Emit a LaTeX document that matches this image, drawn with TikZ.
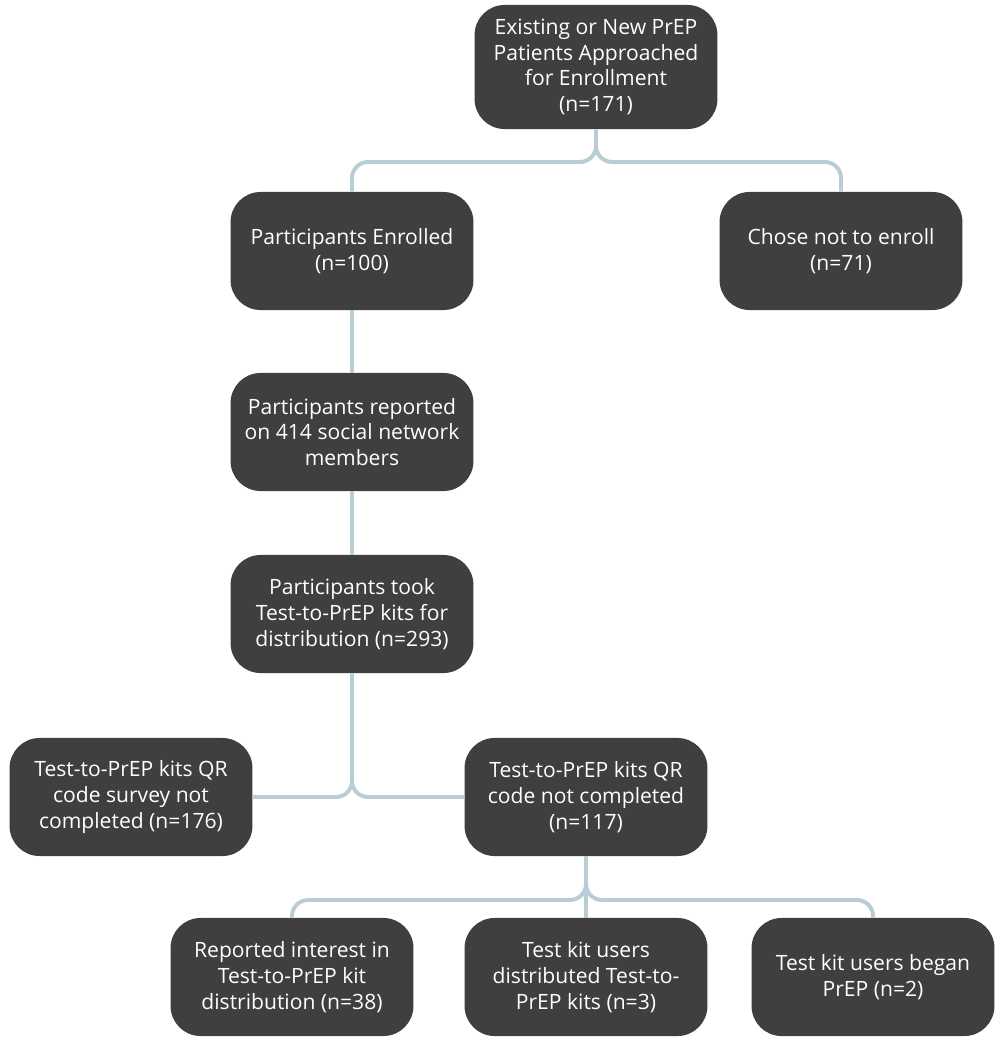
\documentclass[tikz,border=0pt]{standalone}
\usepackage{fontspec}
\setmainfont{Open Sans}
\usepackage{tikz}
\definecolor{boxgray}{RGB}{63,63,63}
\definecolor{linkblue}{RGB}{185,205,214}
\tikzset{
  flowbox/.style={draw=none, fill=boxgray, text=white, rounded corners=0.75cm,
    minimum width=6.07cm, minimum height=2.95cm, align=center,
    font=\fontsize{15}{18.3}\selectfont},
  link/.style={draw=linkblue, line width=2.8pt, rounded corners=0.4cm}
}
\begin{document}
\begin{tikzpicture}[x=0.025cm,y=-0.025cm]
    \useasboundingbox (0,0) rectangle (1006,1050);

    \node[flowbox, minimum height=3.1cm] (top) at (596,67)
        {Existing or New PrEP\\Patients Approached\\for Enrollment\\(n=171)};
    \node[flowbox] (enr) at (352,251) {Participants Enrolled\\(n=100)};
    \node[flowbox] (chose) at (841,251) {Chose not to enroll\\(n=71)};
    \node[flowbox] (rep) at (352,432) {Participants reported\\on 414 social network\\members};
    \node[flowbox] (took) at (352,614) {Participants took\\Test-to-PrEP kits for\\distribution (n=293)};
    \node[flowbox] (surv) at (131,797) {Test-to-PrEP kits QR\\code survey not\\completed (n=176)};
    \node[flowbox] (qr) at (586,797) {Test-to-PrEP kits QR\\code not completed\\(n=117)};
    \node[flowbox] (intr) at (292,977) {Reported interest in\\Test-to-PrEP kit\\distribution (n=38)};
    \node[flowbox] (dist) at (586,977) {Test kit users\\distributed Test-to-\\PrEP kits (n=3)};
    \node[flowbox] (began) at (873,977) {Test kit users began\\PrEP (n=2)};

    % forks
    \coordinate (f1) at (top.south |- 0,162);
    \coordinate (f2) at (took.south |- surv.east);
    \coordinate (f3) at (qr.south |- 0,900);

    \draw[link] (top.south) -- (f1) -- (enr.north |- f1) -- (enr.north);
    \draw[link] (top.south) -- (f1) -- (chose.north |- f1) -- (chose.north);
    \draw[link] (enr.south) -- (rep.north);
    \draw[link] (rep.south) -- (took.north);
    \draw[link] (took.south) -- (f2) -- (surv.east);
    \draw[link] (took.south) -- (f2) -- (qr.west);
    \draw[link] (qr.south) -- (f3) -- (intr.north |- f3) -- (intr.north);
    \draw[link] (qr.south) -- (f3) -- (began.north |- f3) -- (began.north);
    \draw[link] (qr.south) -- (dist.north);
\end{tikzpicture}
\end{document}
